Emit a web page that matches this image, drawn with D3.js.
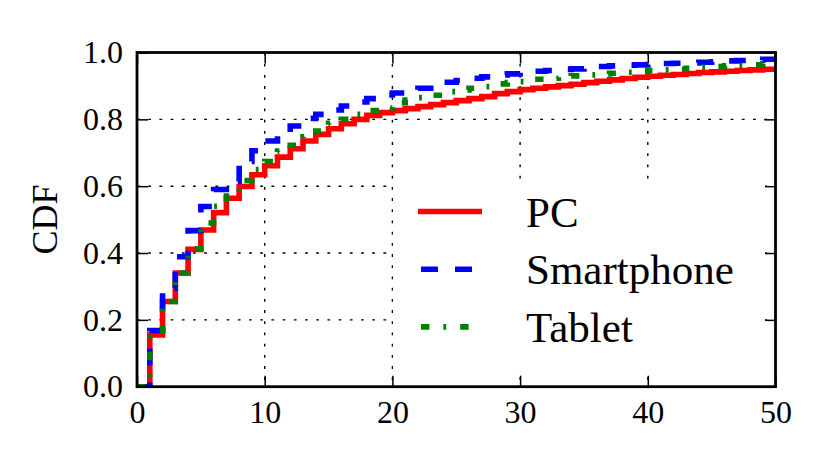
<!DOCTYPE html>
<html>
<head>
<meta charset="utf-8">
<script src="https://cdn.jsdelivr.net/npm/d3@7"></script>
<style>
  body { margin: 0; background: #fff; }
  svg text { font-family: 'Liberation Serif' !important; }
</style>
</head>
<body>
<svg id="chart" font-family="Liberation Serif"></svg>
<script>
var width = 830;
var height = 467;

var margin = { top: 52.5, right: 54.5, bottom: 80.3, left: 137 };

var chartWidth = width - margin.left - margin.right;
var chartHeight = height - margin.top - margin.bottom;

// data: CDF value reached at each integer x (step after)
var xs = d3.range(0, 51);
var pc = [0, 0.155, 0.255, 0.34, 0.411, 0.469, 0.521, 0.564, 0.599, 0.634,
    0.661, 0.687, 0.712, 0.735, 0.755, 0.772, 0.787, 0.800, 0.812, 0.820,
    0.826, 0.832, 0.838, 0.844, 0.850, 0.856, 0.862, 0.868, 0.877, 0.883,
    0.889, 0.893, 0.897, 0.901, 0.905, 0.910, 0.914, 0.918, 0.922, 0.926,
    0.929, 0.932, 0.934, 0.937, 0.940, 0.942, 0.944, 0.946, 0.948, 0.950, 0.952];
var smartphone = [0, 0.168, 0.295, 0.389, 0.467, 0.539, 0.590, 0.614, 0.674, 0.706,
    0.735, 0.758, 0.780, 0.803, 0.815, 0.828, 0.840, 0.852, 0.862, 0.873,
    0.879, 0.885, 0.893, 0.903, 0.911, 0.916, 0.923, 0.927, 0.933, 0.936,
    0.940, 0.944, 0.946, 0.949, 0.951, 0.954, 0.958, 0.960, 0.962, 0.963,
    0.964, 0.967, 0.968, 0.969, 0.971, 0.972, 0.975, 0.976, 0.977, 0.980, 0.981];
var tablet = [0, 0.147, 0.255, 0.34, 0.413, 0.490, 0.540, 0.582, 0.617, 0.650,
    0.674, 0.705, 0.722, 0.748, 0.765, 0.788, 0.800, 0.815, 0.826, 0.834,
    0.850, 0.858, 0.865, 0.872, 0.883, 0.888, 0.893, 0.898, 0.906, 0.910,
    0.913, 0.920, 0.923, 0.926, 0.930, 0.933, 0.936, 0.938, 0.941, 0.943,
    0.946, 0.948, 0.950, 0.953, 0.956, 0.958, 0.960, 0.962, 0.963, 0.966, 0.967];

var seriesNames = ["PC", "Smartphone", "Tablet"];
var seriesColors = ["#ff0000", "#0000ff", "#008000"];
var seriesDash = ["none", "17,17", "8.4,14,2.8,14"];
var legendLength = [64, 51, 49];
var xTicks = [0, 10, 20, 30, 40, 50];
var yTicks = [0, 0.2, 0.4, 0.6, 0.8, 1.0];

var svg = d3.select("#chart")
    .attr("width", width)
    .attr("height", height);

var xScale = d3.scaleLinear().domain([0, 50]).range([0, chartWidth]);
var yScale = d3.scaleLinear().domain([0, 1]).range([chartHeight, 0]);

var g = svg.append("g")
    .attr("transform", "translate(" + margin.left + "," + margin.top + ")");

g.append("clipPath").attr("id", "clip")
    .append("rect").attr("width", chartWidth).attr("height", chartHeight);

// grid
var grid = g.append("g").attr("class", "grid");
grid.selectAll(".vgrid")
    .data(xTicks.slice(1, -1))
    .enter().append("line")
    .attr("x1", xScale).attr("x2", xScale)
    .attr("y1", 0).attr("y2", chartHeight);
grid.selectAll(".hgrid")
    .data(yTicks.slice(1, -1))
    .enter().append("line")
    .attr("x1", 0).attr("x2", chartWidth)
    .attr("y1", yScale).attr("y2", yScale);
grid.selectAll("line")
    .attr("stroke", "#000")
    .attr("stroke-width", 1.4)
    .attr("stroke-dasharray", "2.8,8.4");

// lines
var allSeries = [pc, smartphone, tablet];
var line = d3.line()
    .x(function(d, i) { return xScale(xs[i]); })
    .y(function(d) { return yScale(d); })
    .curve(d3.curveStepAfter);

g.append("g").attr("clip-path", "url(#clip)")
    .selectAll(".series")
    .data(allSeries)
    .enter().append("path")
    .attr("class", "series")
    .attr("d", line)
    .attr("fill", "none")
    .attr("stroke", function(d, i) { return seriesColors[i]; })
    .attr("stroke-width", 5.6)
    .attr("stroke-dasharray", function(d, i) { return seriesDash[i]; });

// axes (ticks inward on all four sides)
var xAxis = g.append("g")
    .attr("transform", "translate(0," + chartHeight + ")")
    .call(d3.axisBottom(xScale).tickValues(xTicks).tickSize(-11).tickPadding(13.6)
        .tickFormat(d3.format("d")));
var yAxis = g.append("g")
    .call(d3.axisLeft(yScale).tickValues(yTicks).tickSize(-11).tickPadding(14)
        .tickFormat(d3.format(".1f")));
var xTop = g.append("g")
    .call(d3.axisTop(xScale).tickValues(xTicks).tickSize(-11).tickFormat(""));
var yRight = g.append("g")
    .attr("transform", "translate(" + chartWidth + ",0)")
    .call(d3.axisRight(yScale).tickValues(yTicks).tickSize(-11).tickFormat(""));

[xAxis, yAxis, xTop, yRight].forEach(function(a) {
    a.attr("font-family", "Liberation Serif").attr("font-size", 32);
    a.select(".domain").remove();
    a.selectAll(".tick line").attr("stroke", "#000").attr("stroke-width", 1.5);
    a.selectAll("text").attr("fill", "#000");
});

// frame
g.append("rect")
    .attr("width", chartWidth)
    .attr("height", chartHeight)
    .attr("fill", "none")
    .attr("stroke", "#000")
    .attr("stroke-width", 2.8);

// y label
svg.append("text")
    .attr("transform", "translate(57," + (margin.top + chartHeight / 2) + ") rotate(-90)")
    .attr("text-anchor", "middle")
    .attr("font-size", 36)
    .text("CDF");

// legend
var legend = g.append("g")
    .attr("transform", "translate(" + (393 - margin.left) + "," + (180 - margin.top) + ")");
legend.append("rect")
    .attr("width", 372)
    .attr("height", 195)
    .attr("fill", "#fff");

var items = legend.selectAll(".item")
    .data(seriesNames)
    .enter().append("g")
    .attr("class", "item")
    .attr("transform", function(d, i) { return "translate(0," + (31.5 + i * 57.7) + ")"; });

items.append("line")
    .attr("x1", function(d, i) { return i === 0 ? 25 : 28; })
    .attr("x2", function(d, i) { return (i === 0 ? 25 : 28) + legendLength[i]; })
    .attr("y1", 0).attr("y2", 0)
    .attr("stroke", function(d, i) { return seriesColors[i]; })
    .attr("stroke-width", 5.6)
    .attr("stroke-dasharray", function(d, i) { return seriesDash[i]; });

items.append("text")
    .attr("x", 133)
    .attr("y", 15)
    .attr("font-size", 43)
    .text(function(d) { return d; });
</script>
</body>
</html>
